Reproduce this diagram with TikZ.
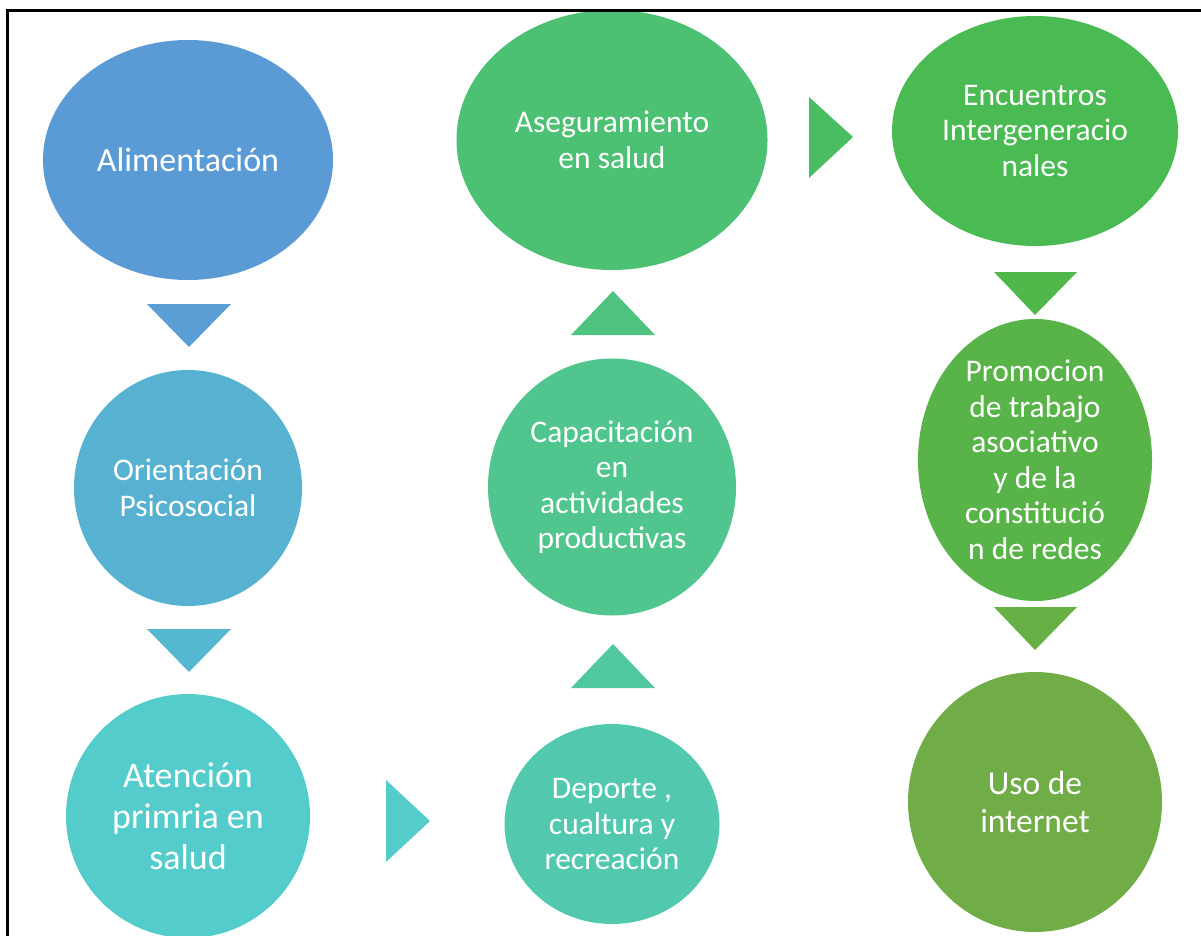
\documentclass[tikz,border=0pt]{standalone}
\usepackage{fontspec}
\setmainfont{Carlito}
\usetikzlibrary{shapes.geometric}
\definecolor{c1}{HTML}{5B9BD5}
\definecolor{c2}{HTML}{57B1D0}
\definecolor{c3}{HTML}{55CCCC}
\definecolor{c4}{HTML}{52C9AF}
\definecolor{c5}{HTML}{50C68E}
\definecolor{c6}{HTML}{4CC073}
\definecolor{c7}{HTML}{49BB52}
\definecolor{c8}{HTML}{58B449}
\definecolor{c9}{HTML}{70AD47}
\definecolor{t1}{HTML}{5B9DD5}
\definecolor{t2}{HTML}{56B7D0}
\definecolor{t3}{HTML}{55CCCC}
\definecolor{t4}{HTML}{51C8A0}
\definecolor{t5}{HTML}{4EC380}
\definecolor{t6}{HTML}{4ABD62}
\definecolor{t7}{HTML}{50B84A}
\definecolor{t8}{HTML}{66B046}
\tikzset{
  bub/.style={ellipse, inner sep=0pt, text=white, align=center},
  fs/.style={font=\fontsize{31.5}{35.5}\selectfont},
}
\begin{document}
\begin{tikzpicture}[x=1pt,y=-1pt]
\useasboundingbox (0,0) rectangle (1201,936);
\fill[white] (0,0) rectangle (1201,936);
% ellipses
\node[bub, fill=c1, minimum width=290, minimum height=240, font=\fontsize{34}{38}\selectfont] (n1) at (188,160) {Alimentación};
\node[bub, fill=c2, minimum width=228, minimum height=236, fs] (n2) at (188,488) {Orientación\\Psicosocial};
\node[bub, fill=c3, minimum width=244, minimum height=244, font=\fontsize{36}{41}\selectfont] (n3) at (188,816) {Atención\\primria en\\salud};
\node[bub, fill=c4, minimum width=215, minimum height=200, fs] (n4) at (612,824) {Deporte ,\\cualtura y\\recreación};
\node[bub, fill=c5, minimum width=248, minimum height=257, fs] (n5) at (612,487) {Capacitación\\en\\actividades\\productivas};
\node[bub, fill=c6, minimum width=311, minimum height=260, fs] (n6) at (612,140) {Aseguramiento\\en salud};
\node[bub, fill=c7, minimum width=286, minimum height=230, fs] (n7) at (1035,131) {Encuentros\\Intergeneracio\\nales};
\node[bub, fill=c8, minimum width=234, minimum height=248, fs] (n8) at (1035,460) {Promocion\\de trabajo\\asociativo\\y de la\\constitució\\n de redes};
\node[bub, fill=c9, minimum width=254, minimum height=260, font=\fontsize{33.5}{38}\selectfont] (n9) at (1035,802) {Uso de\\internet};
% triangles
\fill[t1] (147,304) -- (231,304) -- (189,347) -- cycle;
\fill[t2] (147,629) -- (231,629) -- (189,672) -- cycle;
\fill[t3] (386,780) -- (386,862) -- (430,821) -- cycle;
\fill[t4] (571,688) -- (655,688) -- (613,644) -- cycle;
\fill[t5] (571,335) -- (655,335) -- (613,291) -- cycle;
\fill[t6] (809,97) -- (809,178) -- (853,137) -- cycle;
\fill[t7] (994,272) -- (1077,272) -- (1035,315) -- cycle;
\fill[t8] (994,607) -- (1077,607) -- (1035,650) -- cycle;
% frame
\draw[line width=2.2pt] (7.5,937) -- (7.5,10.5) -- (1202,10.5);
\end{tikzpicture}
\end{document}
